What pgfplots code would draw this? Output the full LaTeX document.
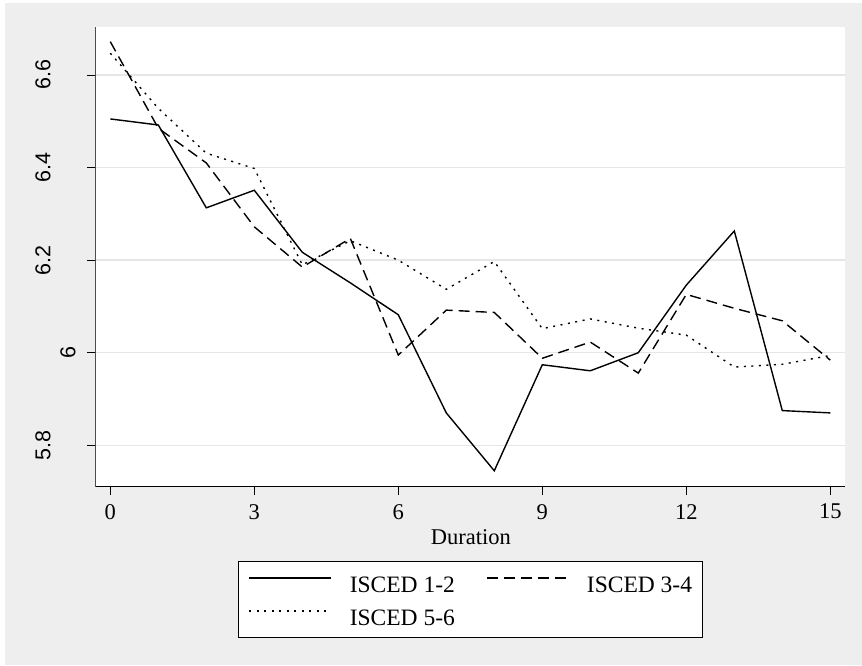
\documentclass[border=0pt]{standalone}
\usepackage{fontspec}
\setmainfont{Liberation Serif}
\newfontfamily\ysans{Liberation Sans}
\usepackage{pgfplots}
\pgfplotsset{compat=1.18}
\definecolor{bg}{HTML}{EEEEEE}
\definecolor{gridc}{HTML}{E6E6E6}
\begin{document}
\begin{tikzpicture}[x=1pt,y=1pt]
\path[fill=white] (0,0) rectangle (862,666);
\fill[bg] (5,1) rectangle (862,663);
\begin{axis}[
  at={(95.7pt,179.3pt)}, anchor=south west,
  scale only axis, width=748.8pt, height=460pt,
  xmin=-0.304, xmax=15.296, ymin=5.7106, ymax=6.7043,
  axis background/.style={fill=white},
  axis lines*=left,
  x axis line style={black, line width=0.9pt},
  y axis line style={black!70, line width=0.9pt},
  xtick={0,3,6,9,12,15},
  xticklabels={0,3,6,9,12,15},
  ytick={5.8,6,6.2,6.4,6.6},
  yticklabels={5.8,\raisebox{-25pt}{6},6.2,6.4,6.6},
  tick align=outside, major tick length=8.4pt,
  tick style={black, line width=0.8pt},
  ymajorgrids, major grid style={gridc, line width=1.3pt},
  xticklabel style={font=\fontsize{22.5}{27}\selectfont, yshift=-5.5pt},
  yticklabel style={font=\ysans\fontsize{21.5}{26}\selectfont, xshift=-37pt, rotate=90, anchor=base},
  xlabel={Duration},
  xlabel style={at={(axis description cs:0.501,-0.1246)}, anchor=base, font=\fontsize{22.5}{27}\selectfont},
  legend columns=2,
  legend cell align=left,
  legend image code/.code={\draw[#1] (0pt,5pt) -- (82pt,5pt);},
  legend style={at={(0.1904,-0.1615)}, anchor=north west, draw=black, line width=0.8pt, fill=white,
    inner xsep=10pt, inner ysep=7.3pt, font=\fontsize{23.5}{28}\selectfont,
    nodes={inner sep=0pt, text height=24pt, text depth=5pt},
    /tikz/every odd column/.append style={column sep=17.7pt},
    /tikz/every even column/.append style={column sep=31pt},
    row sep=3.7pt},
]
\addplot[black, line width=1.4pt] coordinates {
(0,6.505) (1,6.492) (2,6.313) (3,6.351) (4,6.217) (5,6.151) (6,6.082) (7,5.870)
(8,5.745) (9,5.974) (10,5.961) (11,6.000) (12,6.146) (13,6.263) (14,5.875) (15,5.870)};
\addlegendentry{ISCED 1-2}
\addplot[black, line width=1.4pt, dash pattern=on 11pt off 6pt] coordinates {
(0,6.672) (1,6.485) (2,6.410) (3,6.272) (4,6.185) (5,6.247) (6,5.995) (7,6.092)
(8,6.087) (9,5.988) (10,6.023) (11,5.956) (12,6.126) (13,6.096) (14,6.069) (15,5.984)};
\addlegendentry{ISCED 3-4}
\addplot[black, line width=1.4pt, dash pattern=on 2pt off 5.5pt] coordinates {
(0,6.647) (1,6.528) (2,6.431) (3,6.398) (4,6.190) (5,6.242) (6,6.200) (7,6.137)
(8,6.197) (9,6.052) (10,6.073) (11,6.053) (12,6.038) (13,5.969) (14,5.975) (15,5.994)};
\addlegendentry{ISCED 5-6}
\end{axis}
\end{tikzpicture}
\end{document}
